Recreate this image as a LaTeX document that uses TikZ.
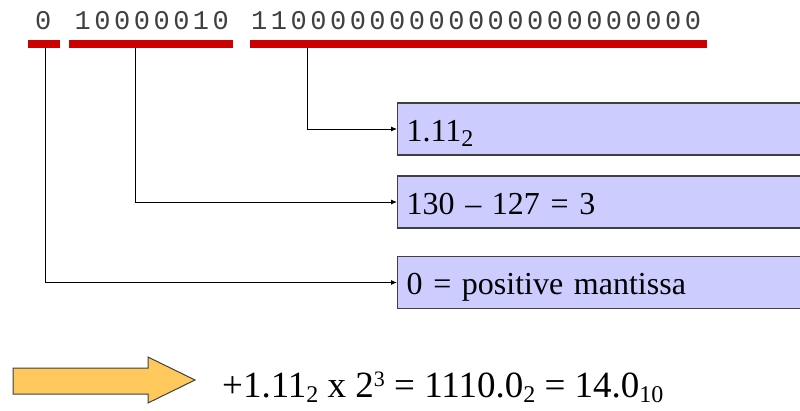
\documentclass[tikz,border=0pt]{standalone}
\usepackage{fontspec}
\setmainfont{Liberation Serif}
\newfontfamily\bitfont[LetterSpace=13]{Liberation Mono}
\usetikzlibrary{positioning, arrows.meta}
\definecolor{barred}{RGB}{204,0,0}
\definecolor{boxblue}{RGB}{204,204,255}
\definecolor{edgegray}{RGB}{64,64,64}
\definecolor{arrowgold}{RGB}{255,200,92}
\newcommand{\lowsub}[1]{\raisebox{-5pt}{\fontsize{24}{24}\selectfont #1}}
\newcommand{\highsup}[1]{\raisebox{11pt}{\fontsize{22}{22}\selectfont #1}}

\begin{document}
\begin{tikzpicture}[x=1pt, y=-1pt,
    bits/.style={font=\bitfont\fontsize{27}{30}\selectfont, text=edgegray, inner sep=0pt, anchor=base west},
    bar/.style={fill=barred, inner sep=0pt, minimum height=8pt, anchor=north west},
    field/.style={draw=edgegray, line width=1.2pt, fill=boxblue, anchor=west, minimum height=52pt,
        text width=392pt, inner xsep=9pt, inner ysep=0pt, align=left,
        font=\fontsize{32}{36}\selectfont, text height=26pt, text depth=2pt},
    link/.style={-{Latex[length=6pt, width=5pt]}, line width=0.9pt}]
    \useasboundingbox (0,0) rectangle (800,410);
    \clip (0,0) rectangle (800,410);

    % bit pattern
    \node[bits] (sbits) at (35,29) {0};
    \node[bits] (ebits) at (74.5,29) {10000010};
    \node[bits] (mbits) at (251,29) {11000000000000000000000};

    \node[bar, minimum width=32pt] (sbar) at (28,40) {};
    \node[bar, minimum width=164pt] (ebar) at (69,40) {};
    \node[bar, minimum width=457pt] (mbar) at (250,40) {};

    % meaning of each field
    \node[field] (mfield) at (397,129) {1.11\lowsub{2}};
    \node[field] (efield) at (397,202) {130 -- 127 = 3};
    \node[field] (sfield) at (397,282.5) {0 = positive mantissa};

    \draw[link] ([xshift=57pt]mbar.south west) |- (mfield.west);
    \draw[link] ([xshift=66pt]ebar.south west) |- (efield.west);
    \draw[link] ([xshift=1.5pt]sbar.south) |- (sfield.west);

    % result
    \draw[draw=edgegray, line width=1pt, fill=arrowgold]
        (13,368) -- (148,368) -- (148,357) -- (195,380) -- (148,403) -- (148,394) -- (13,394) -- cycle;
    \node[anchor=base west, inner sep=0pt, font=\fontsize{37}{40}\selectfont] (result) at (222,397)
        {+1.11\lowsub{2} x 2\highsup{3} = 1110.0\lowsub{2} = 14.0\lowsub{10}};
\end{tikzpicture}
\end{document}
